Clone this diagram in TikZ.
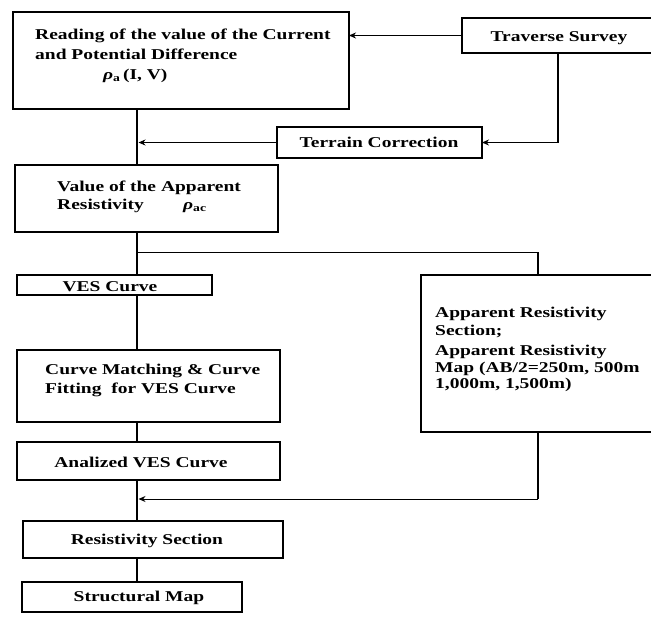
\documentclass[tikz,border=0pt]{standalone}
\usepackage{fontspec}
\setmainfont[FakeStretch=1.3]{Liberation Serif}
\usetikzlibrary{arrows.meta}
\begin{document}
\begin{tikzpicture}[x=1pt,y=-1pt,
  box/.style={draw, line width=1.4pt, inner sep=0pt, outer sep=0pt},
  lbl/.style={inner sep=0pt, font=\fontsize{15}{18}\selectfont\bfseries},
  thickline/.style={line width=2.4pt},
  thinline/.style={line width=1pt},
  arr/.style={thinline, -{Stealth[length=7pt,width=6pt]}}]
\useasboundingbox (0,0) rectangle (651,624);
% boxes
\node[box, minimum width=336pt, minimum height=97pt] (read) at (181,60.5) {};
\node[box, minimum width=192pt, minimum height=35pt] (trav) at (558,35.5) {};
\node[box, minimum width=205pt, minimum height=31pt] (terr) at (379.5,142.5) {};
\node[box, minimum width=263pt, minimum height=67pt] (val) at (146.5,198.5) {};
\node[box, minimum width=195pt, minimum height=20pt] (ves) at (114.5,285) {};
\node[box, minimum width=263pt, minimum height=72pt] (cm) at (148.5,386) {};
\node[box, minimum width=263pt, minimum height=38pt] (ana) at (148.5,461) {};
\node[box, minimum width=234pt, minimum height=157pt] (app) at (538,353.5) {};
\node[box, minimum width=260pt, minimum height=37pt] (rs) at (153,539.5) {};
\node[box, minimum width=220pt, minimum height=30pt] (sm) at (132,597) {};
% texts
\node[lbl, anchor=base west] (read1) at (35,39) {Reading of the value of the Current};
\node[lbl, anchor=base west] (read2) at (35,59) {and Potential Difference};
\node[lbl, anchor=base west] (read3) at (103,79) {{\itshape ρ}\textsubscript{a}\,(I, V)};
\node[lbl, anchor=base] (travt) at (559,41) {Traverse Survey};
\node[lbl, anchor=base] (terrt) at (379,147) {Terrain Correction};
\node[lbl, anchor=base west] (val1) at (57,191) {Value of the Apparent};
\node[lbl, anchor=base west] (val2) at (57,209) {Resistivity};
\node[lbl, anchor=base west] (val3) at (183,209) {{\itshape ρ}\textsubscript{ac}};
\node[lbl, anchor=base] (vest) at (110,291) {VES Curve};
\node[lbl, anchor=base west] (cm1) at (45,374) {Curve Matching \& Curve};
\node[lbl, anchor=base west] (cm2) at (45,393) {Fitting\ \ for VES Curve};
\node[lbl, anchor=base] (anat) at (141,467) {Analized VES Curve};
\node[lbl, anchor=base] (rst) at (147,544) {Resistivity Section};
\node[lbl, anchor=base] (smt) at (139,601) {Structural Map};
\node[lbl, anchor=base west] (app1) at (435,317) {Apparent Resistivity};
\node[lbl, anchor=base west] (app2) at (435,335) {Section;};
\node[lbl, anchor=base west] (app3) at (435,355) {Apparent Resistivity};
\node[lbl, anchor=base west] (app4) at (435,372) {Map (AB/2=250m, 500m};
\node[lbl, anchor=base west] (app5) at (435,388) {1,000m, 1,500m)};
% helper coordinates
\coordinate (mx) at (137,0);
\coordinate (br) at (137,252);
\coordinate (jn) at (137,499);
% connectors
\draw[arr] (trav.west) -- (trav.west -| read.east);
\draw[thickline] (trav.south) -- (trav.south |- terr.east);
\draw[arr] (trav.south |- terr.east) -- (terr.east);
\draw[arr] (terr.west) -- ([xshift=1.5pt]terr.west -| mx);
\draw[thickline] (read.south -| mx) -- (val.north -| mx);
\draw[thickline] (val.south -| mx) -- (ves.north -| mx);
\draw[thinline] (br) -- (br -| app.north);
\draw[thickline] (br -| app.north) -- (app.north);
\draw[thickline] (ves.south -| mx) -- (cm.north -| mx);
\draw[thickline] (cm.south -| mx) -- (ana.north -| mx);
\draw[thickline] (ana.south -| mx) -- (rs.north -| mx);
\draw[thickline] (rs.south -| mx) -- (sm.north -| mx);
\draw[thickline] (app.south) -- (jn -| app.south);
\draw[arr] (jn -| app.south) -- ([xshift=1.5pt]jn);
\end{tikzpicture}
\end{document}
